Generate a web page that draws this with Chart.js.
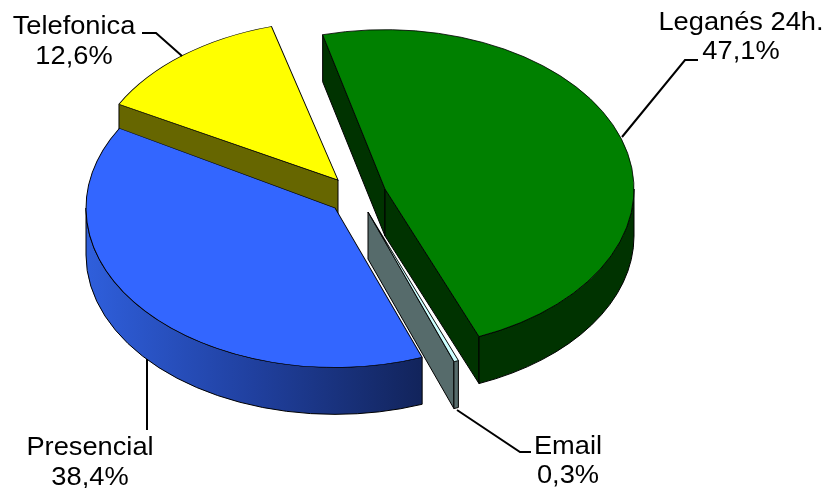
<!DOCTYPE html>
<html>
<head>
<meta charset="utf-8">
<style>
  html, body { margin: 0; background: #fff; }
  canvas { display: block; }
</style>
<script src="https://cdn.jsdelivr.net/npm/chart.js@4"></script>
</head>
<body>
<canvas id="graficaCanales" width="839" height="488"></canvas>
<script>
const categorias = ['Leganés 24h.', 'Email', 'Presencial', 'Telefonica'];
const valores = [47.1, 0.3, 38.4, 12.6];

const coloresCara = ['#008000', '#ccffff', '#3366ff', '#ffff00'];
const coloresLado = ['#003300', '#566b6b', '#1f3f9f', '#666600'];

// centre of each exploded slice on screen, plus a small extra turn in degrees
const centros = [
  { x: 385, y: 189, giro: 0 },
  { x: 368, y: 212, giro: 0.9 },
  { x: 335, y: 208, giro: 0.6 },
  { x: 338, y: 180, giro: -1 }
];
const ordenDibujo = [3, 0, 1, 2];

const RADIO = 249;
const ACHATADO = 0.64;
const GROSOR = 47;

// label position and leader line for each category
const rotulos = [
  { x: 741, y: 30, y2: 59, linea: [[698, 60], [685, 60], [622, 137]] },
  { x: 568, y: 454, y2: 483, linea: [[457, 410], [520, 452], [531, 452]] },
  { x: 90, y: 455, y2: 485, linea: [[147, 359], [147, 430]] },
  { x: 74, y: 34, y2: 64, linea: [[142, 33], [156, 33], [182, 56]] }
];

function formatoPorcentaje(v) {
  return v.toFixed(1).replace('.', ',') + '%';
}

function relleno(ctx, i) {
  if (i !== 2) return coloresLado[i];
  // the blue side fades to dark navy
  const g = ctx.createLinearGradient(86, 0, 420, 0);
  g.addColorStop(0, '#2f5fdc');
  g.addColorStop(0.5, '#20409f');
  g.addColorStop(1, '#12245c');
  return g;
}

function paredRadial(ctx, c, r, a) {
  const px = c.x + r * Math.cos(a);
  const py = c.y + r * ACHATADO * Math.sin(a);
  ctx.beginPath();
  ctx.moveTo(c.x, c.y);
  ctx.lineTo(px, py);
  ctx.lineTo(px, py + GROSOR);
  ctx.lineTo(c.x, c.y + GROSOR);
  ctx.closePath();
  ctx.fill();
  ctx.stroke();
}

function dibujarLados(ctx, arco, i) {
  const c = centros[i];
  const giro = c.giro * Math.PI / 180;
  const a0 = arco.startAngle + giro;
  const a1 = arco.endAngle + giro;
  const r = arco.outerRadius;

  ctx.fillStyle = relleno(ctx, i);
  ctx.strokeStyle = '#000';
  ctx.lineWidth = 1;
  ctx.lineJoin = 'round';

  // cut faces, only the ones turned towards the viewer
  if (Math.cos(a0) < 0) paredRadial(ctx, c, r, a0);
  if (Math.cos(a1) > 0) paredRadial(ctx, c, r, a1);

  // outer wall, only the front half
  for (let k = -1; k <= 1; k++) {
    const ini = Math.max(a0, 2 * Math.PI * k);
    const fin = Math.min(a1, 2 * Math.PI * k + Math.PI);
    if (fin <= ini) continue;
    ctx.beginPath();
    ctx.ellipse(c.x, c.y, r, r * ACHATADO, 0, ini, fin);
    ctx.ellipse(c.x, c.y + GROSOR, r, r * ACHATADO, 0, fin, ini, true);
    ctx.closePath();
    ctx.fill();
    ctx.stroke();
  }
}

function textoAncho(ctx, texto, x, y) {
  // the reference text is a little stretched sideways
  ctx.save();
  ctx.translate(x, y);
  ctx.scale(1.09, 1);
  ctx.fillText(texto, 0, 0);
  ctx.restore();
}

const pastel3d = {
  id: 'pastel3d',
  beforeDatasetDraw(chart, args) {
    const ctx = chart.ctx;
    const arcos = args.meta.data;
    ordenDibujo.forEach(function (i) {
      const arco = arcos[i];
      const c = centros[i];
      ctx.save();
      dibujarLados(ctx, arco, i);
      ctx.translate(c.x, c.y);
      ctx.scale(1, ACHATADO);
      ctx.rotate(c.giro * Math.PI / 180);
      ctx.translate(-arco.x, -arco.y);
      arco.draw(ctx);
      ctx.restore();
    });
    return false;
  },
  afterDatasetsDraw(chart) {
    const ctx = chart.ctx;
    ctx.save();
    ctx.strokeStyle = '#000';
    ctx.lineWidth = 2;
    ctx.fillStyle = '#000';
    ctx.font = '25px "Liberation Sans"';
    ctx.textAlign = 'center';
    categorias.forEach(function (nombre, i) {
      const r = rotulos[i];
      ctx.beginPath();
      r.linea.forEach(function (p, j) {
        if (j === 0) ctx.moveTo(p[0], p[1]);
        else ctx.lineTo(p[0], p[1]);
      });
      ctx.stroke();
      textoAncho(ctx, nombre, r.x, r.y);
      textoAncho(ctx, formatoPorcentaje(valores[i]), r.x, r.y2);
    });
    ctx.restore();
  }
};

new Chart(document.getElementById('graficaCanales').getContext('2d'), {
  type: 'pie',
  data: {
    labels: categorias,
    datasets: [{
      data: valores,
      backgroundColor: coloresCara,
      borderColor: '#000',
      borderWidth: 1,
      borderJoinStyle: 'miter'
    }]
  },
  options: {
    responsive: false,
    animation: false,
    rotation: -14.5,
    radius: RADIO,
    events: [],
    plugins: {
      legend: { display: false },
      tooltip: { enabled: false }
    }
  },
  plugins: [pastel3d]
});
</script>
</body>
</html>
